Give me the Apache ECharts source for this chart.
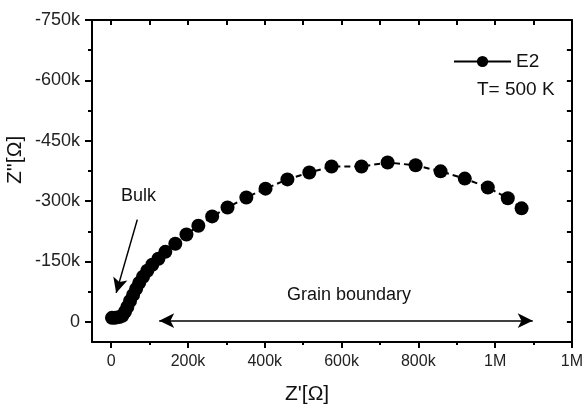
<!DOCTYPE html>
<html>
<head>
<meta charset="utf-8">
<script src="https://cdn.jsdelivr.net/npm/echarts@6/dist/echarts.min.js"></script>
<style>
  html, body { margin: 0; padding: 0; background: #fff; }
  #chart { width: 586px; height: 409px; }
</style>
</head>
<body>
<div id="chart"></div>
<script>
// impedance data, sample E2 at 500 K
const zReal = [2000, 10000, 21000, 29000, 36000, 42000, 49000, 57000, 65000, 73000, 83000, 94000, 107000, 123000, 141000, 167000, 196000, 227000, 263000, 303000, 352000, 402000, 459000, 516000, 574000, 652000, 720000, 793000, 858000, 921000, 981000, 1033000, 1069000];
const zImag = [-10000, -10000, -12000, -15000, -25000, -37000, -52000, -67000, -82000, -97000, -112000, -127000, -142000, -157000, -174000, -194000, -217000, -239000, -262000, -284000, -309000, -331000, -354000, -371000, -386000, -386000, -396000, -389000, -374000, -356000, -334000, -307000, -282000];

const xTicks = [0, 200000, 400000, 600000, 800000, 1000000, 1200000];
const xTickLabels = ["0", "200k", "400k", "600k", "800k", "1M", "1M"];
const xMinorTicks = [100000, 300000, 500000, 700000, 900000, 1100000];
const yTicks = [-750000, -600000, -450000, -300000, -150000, 0];
const yMinorTicks = [-675000, -525000, -375000, -225000, -75000];

const font = "'Liberation Sans', Arial, sans-serif";
const X_MIN = -50000, X_MAX = 1200000;
const Y_MIN = -750000, Y_MAX = 50000;

const chart = echarts.init(document.getElementById("chart"));

function xAxisBase(extra) {
  return Object.assign({
    type: "value", min: X_MIN, max: X_MAX, gridIndex: 0,
    splitLine: { show: false },
    axisLine: { show: false, onZero: false },
    axisLabel: { show: false },
    axisTick: { show: false }
  }, extra);
}
function yAxisBase(extra) {
  return Object.assign({
    type: "value", min: Y_MIN, max: Y_MAX, inverse: true, gridIndex: 0,
    splitLine: { show: false },
    axisLine: { show: false, onZero: false },
    axisLabel: { show: false },
    axisTick: { show: false }
  }, extra);
}

chart.setOption({
  animation: false,
  backgroundColor: "#fff",
  grid: { left: 92, right: 11, top: 20, bottom: 67, containLabel: false },
  xAxis: [
    xAxisBase({
      position: "bottom",
      axisLine: { show: true, onZero: false, lineStyle: { color: "#000", width: 2 } },
      axisTick: { show: true, customValues: xTicks, length: 6, lineStyle: { color: "#000", width: 2 } },
      axisLabel: {
        show: true, customValues: xTicks, margin: 12,
        color: "#222", fontSize: 16, fontFamily: font,
        formatter: v => xTickLabels[xTicks.indexOf(v)]
      }
    }),
    xAxisBase({
      position: "bottom",
      axisTick: { show: true, customValues: xMinorTicks, length: 3, lineStyle: { color: "#000", width: 2 } }
    }),
    xAxisBase({
      position: "top",
      axisLine: { show: true, onZero: false, lineStyle: { color: "#000", width: 2 } },
      axisTick: { show: true, inside: true, customValues: xTicks.concat(xMinorTicks), length: 5, lineStyle: { color: "#000", width: 2 } }
    })
  ],
  yAxis: [
    yAxisBase({
      position: "left",
      axisLine: { show: true, onZero: false, lineStyle: { color: "#000", width: 2 } },
      axisTick: { show: true, customValues: yTicks, length: 7, lineStyle: { color: "#000", width: 2 } },
      axisLabel: {
        show: true, customValues: yTicks, margin: 12,
        color: "#222", fontSize: 18, fontFamily: font,
        formatter: v => (v === 0 ? "0" : v / 1000 + "k")
      }
    }),
    yAxisBase({
      position: "left",
      axisTick: { show: true, customValues: yMinorTicks, length: 4, lineStyle: { color: "#000", width: 2 } }
    }),
    yAxisBase({
      position: "right",
      axisLine: { show: true, onZero: false, lineStyle: { color: "#000", width: 2 } },
      axisTick: { show: true, inside: true, customValues: yTicks.concat(yMinorTicks), length: 5, lineStyle: { color: "#000", width: 2 } }
    })
  ],
  legend: {
    data: ["E2"],
    left: 453, top: 52, padding: 0,
    itemWidth: 57, itemHeight: 14, itemGap: 6,
    lineStyle: { type: "solid", width: 2 },
    textStyle: { fontSize: 19, fontFamily: font, color: "#111", padding: [0, 0, 0, 0] }
  },
  graphic: [
    { type: "text", left: 477, top: 80, style: { text: "T= 500 K", fontSize: 19, fontFamily: font, fill: "#111" } },
    { type: "text", left: 121, top: 187, style: { text: "Bulk", fontSize: 18, fontFamily: font, fill: "#111" } },
    { type: "text", left: 287, top: 286, style: { text: "Grain boundary", fontSize: 18, fontFamily: font, fill: "#111" } },
    { type: "text", left: 285, top: 384, style: { text: "Z'[Ω]", fontSize: 21, fontFamily: font, fill: "#111" } },
    { type: "text", x: 5, y: 184, rotation: Math.PI / 2, style: { text: "Z''[Ω]", fontSize: 21, fontFamily: font, fill: "#111", align: "left", verticalAlign: "top" } }
  ],
  series: [
    {
      name: "E2",
      type: "line",
      xAxisIndex: 0,
      yAxisIndex: 0,
      data: zReal.map((x, i) => [x, zImag[i]]),
      symbol: "circle",
      symbolSize: 14,
      itemStyle: { color: "#000" },
      lineStyle: { color: "#000", width: 2, type: [6, 4] },
      markLine: {
        silent: true,
        symbol: ["arrow", "arrow"],
        symbolSize: [11, 15],
        label: { show: false },
        lineStyle: { color: "#000", width: 1.5, type: "solid" },
        data: [
          [{ coord: [125000, -3000] }, { coord: [1098000, -3000] }],
          [{ coord: [68000, -254000], symbol: "none" }, { coord: [13000, -72000], symbol: "arrow" }]
        ]
      }
    }
  ]
});
</script>
</body>
</html>
